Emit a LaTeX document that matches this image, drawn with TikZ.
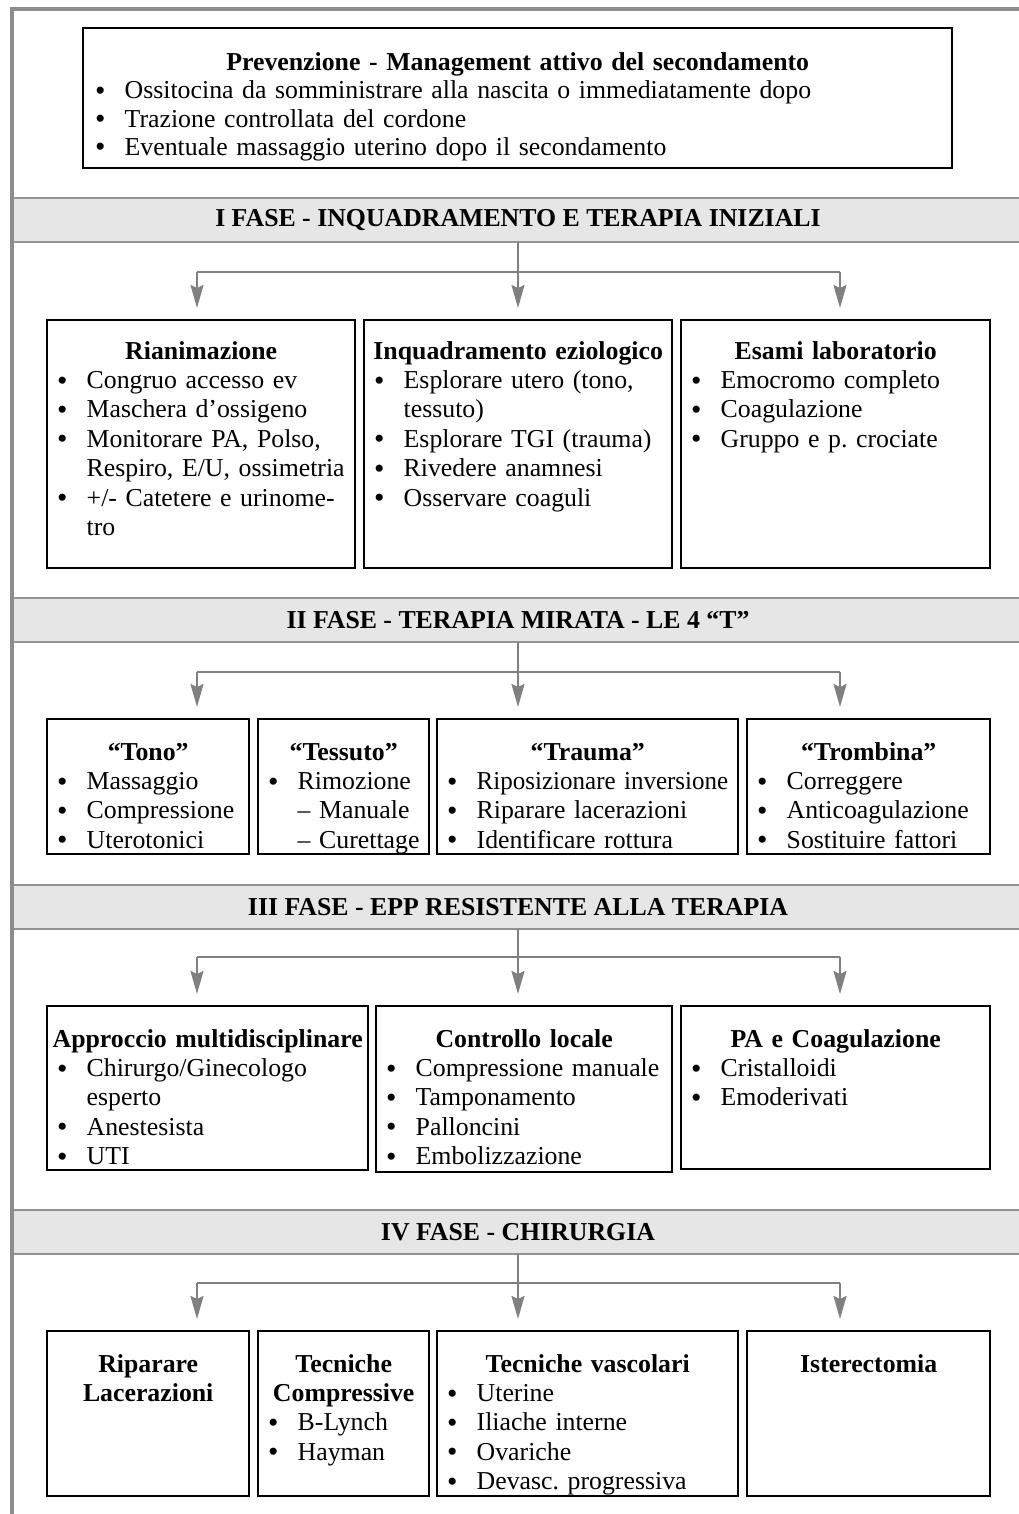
\documentclass[tikz,border=0pt]{standalone}
\usepackage{fontspec}
\usepackage{graphicx}
\setmainfont{Liberation Serif}
\usetikzlibrary{arrows.meta}
\definecolor{framegray}{HTML}{8C8C8C}
\definecolor{bandfill}{HTML}{E6E6E6}
\definecolor{bandline}{HTML}{929292}
\definecolor{arrowgray}{HTML}{808080}
\newlength\bulw \setlength\bulw{29.5pt}
\newcommand\mybul{\raisebox{-0.06em}{\scalebox{1.15}{\textbullet}}}
\newcommand\ttl[1]{\par\noindent\hbox to \hsize{\hss\strut\bfseries #1\hss}}
\newcommand\bl[1]{\par\noindent\makebox[\bulw][l]{\mybul}\mbox{#1}}
\newcommand\cl[1]{\par\noindent\hspace*{\bulw}\mbox{#1}}
\newcommand\jb[2]{\par\noindent\makebox[\bulw][l]{\mybul}\makebox[#1][s]{#2}}
\frenchspacing
\begin{document}
\begin{tikzpicture}[x=1pt,y=-1pt,
  boxs/.style={draw=black,line width=1.6pt,anchor=north west,inner sep=0pt,outer sep=0pt},
  txt/.style={anchor=north west,inner sep=0pt,align=left,font=\fontsize{25.8}{29.4}\selectfont\frenchspacing},
  band/.style={draw=bandline,fill=bandfill,line width=1.5pt,anchor=north west,inner sep=0pt,outer sep=0pt,
    minimum width=1010pt,minimum height=44pt,font=\fontsize{25.8}{29.4}\selectfont\bfseries},
  conn/.style={draw=arrowgray,line width=2pt},
  arr/.style={conn,-{Stealth[length=23pt,width=13pt,inset=3pt]},shorten >=12pt}]
\useasboundingbox (0,0) rectangle (1018,1514);

% ---------- top box
\node[boxs,minimum width=869pt,minimum height=140pt] (top) at (83,28) {};
\node[txt,text width=845pt,font=\fontsize{25.8}{28.3}\selectfont\frenchspacing] (toptxt) at ([xshift=12pt,yshift=-14pt]top.north west) {%
\ttl{Prevenzione - Management attivo del secondamento}
\bl{Ossitocina da somministrare alla nascita o immediatamente dopo}
\bl{Trazione controllata del cordone}
\bl{Eventuale massaggio uterino dopo il secondamento}};

% ---------- bands
\node[band] (f1) at (13,198) {I FASE - INQUADRAMENTO E TERAPIA INIZIALI};
\node[band] (f2) at (13,598) {II FASE - TERAPIA MIRATA - LE 4 “T”};
\node[band] (f3) at (13,885) {III FASE - EPP RESISTENTE ALLA TERAPIA};
\node[band] (f4) at (13,1210) {IV FASE - CHIRURGIA};

% ---------- row 1
\node[boxs,minimum width=308pt,minimum height=248pt] (b11) at (47,320) {};
\node[boxs,minimum width=308pt,minimum height=248pt] (b12) at (364,320) {};
\node[boxs,minimum width=309pt,minimum height=248pt] (b13) at (681,320) {};
\node[txt,text width=288pt] (t11) at ([xshift=10pt,yshift=-9.5pt]b11.north west) {%
\ttl{Rianimazione}
\bl{Congruo accesso ev}
\bl{Maschera d’ossigeno}
\jb{259pt}{Monitorare PA, Polso,}
\cl{Respiro, E/U, ossimetria}
\jb{259pt}{+/- Catetere e urinome-}
\cl{tro}};
\node[txt,text width=288pt] (t12) at ([xshift=10pt,yshift=-9.5pt]b12.north west) {%
\ttl{Inquadramento eziologico}
\jb{261pt}{Esplorare utero (tono,}
\cl{tessuto)}
\bl{Esplorare TGI (trauma)}
\bl{Rivedere anamnesi}
\bl{Osservare coaguli}};
\node[txt,text width=289pt] (t13) at ([xshift=10pt,yshift=-9.5pt]b13.north west) {%
\ttl{Esami laboratorio}
\bl{Emocromo completo}
\bl{Coagulazione}
\bl{Gruppo e p. crociate}};

% ---------- row 2
\node[boxs,minimum width=202pt,minimum height=135pt] (b21) at (47,719) {};
\node[boxs,minimum width=171pt,minimum height=135pt] (b22) at (258,719) {};
\node[boxs,minimum width=301pt,minimum height=135pt] (b23) at (437,719) {};
\node[boxs,minimum width=243pt,minimum height=135pt] (b24) at (747,719) {};
\node[txt,text width=182pt] (t21) at ([xshift=10pt,yshift=-11.5pt]b21.north west) {%
\ttl{“Tono”}
\bl{Massaggio}
\bl{Compressione}
\bl{Uterotonici}};
\node[txt,text width=151pt] (t22) at ([xshift=10pt,yshift=-11.5pt]b22.north west) {%
\ttl{“Tessuto”}
\bl{Rimozione}
\cl{– Manuale}
\cl{– Curettage}};
\node[txt,text width=281pt] (t23) at ([xshift=10pt,yshift=-11.5pt]b23.north west) {%
\ttl{“Trauma”}
\bl{\scalebox{0.97}[1]{Riposizionare inversione}}
\bl{Riparare lacerazioni}
\bl{Identificare rottura}};
\node[txt,text width=223pt] (t24) at ([xshift=10pt,yshift=-11.5pt]b24.north west) {%
\ttl{“Trombina”}
\bl{Correggere}
\bl{Anticoagulazione}
\bl{Sostituire fattori}};

% ---------- row 3
\node[boxs,minimum width=321pt,minimum height=164pt] (b31) at (47,1006) {};
\node[boxs,minimum width=296pt,minimum height=166pt] (b32) at (376,1006) {};
\node[boxs,minimum width=309pt,minimum height=163pt] (b33) at (681,1006) {};
\node[txt,text width=301pt] (t31) at ([xshift=10pt,yshift=-11.5pt]b31.north west) {%
\ttl{Approccio multidisciplinare}
\bl{Chirurgo/Ginecologo}
\cl{esperto}
\bl{Anestesista}
\bl{UTI}};
\node[txt,text width=276pt] (t32) at ([xshift=10pt,yshift=-11.5pt]b32.north west) {%
\ttl{Controllo locale}
\bl{Compressione manuale}
\bl{Tamponamento}
\bl{Palloncini}
\bl{Embolizzazione}};
\node[txt,text width=289pt] (t33) at ([xshift=10pt,yshift=-11.5pt]b33.north west) {%
\ttl{PA e Coagulazione}
\bl{Cristalloidi}
\bl{Emoderivati}};

% ---------- row 4
\node[boxs,minimum width=202pt,minimum height=165pt] (b41) at (47,1331) {};
\node[boxs,minimum width=171pt,minimum height=165pt] (b42) at (258,1331) {};
\node[boxs,minimum width=301pt,minimum height=165pt] (b43) at (437,1331) {};
\node[boxs,minimum width=243pt,minimum height=165pt] (b44) at (747,1331) {};
\node[txt,text width=182pt] (t41) at ([xshift=10pt,yshift=-11.5pt]b41.north west) {%
\ttl{Riparare}
\ttl{Lacerazioni}};
\node[txt,text width=151pt] (t42) at ([xshift=10pt,yshift=-11.5pt]b42.north west) {%
\ttl{Tecniche}
\ttl{Compressive}
\bl{B-Lynch}
\bl{Hayman}};
\node[txt,text width=281pt] (t43) at ([xshift=10pt,yshift=-11.5pt]b43.north west) {%
\ttl{Tecniche vascolari}
\bl{Uterine}
\bl{Iliache interne}
\bl{Ovariche}
\bl{Devasc. progressiva}};
\node[txt,text width=223pt] (t44) at ([xshift=10pt,yshift=-11.5pt]b44.north west) {%
\ttl{Isterectomia}};

% ---------- connectors
\coordinate (h1) at (518,272); \coordinate (hl1) at (197,272); \coordinate (hr1) at (840,272);
\coordinate (h2) at (518,672); \coordinate (hl2) at (197,672); \coordinate (hr2) at (840,672);
\coordinate (h3) at (518,957); \coordinate (hl3) at (197,957); \coordinate (hr3) at (840,957);
\coordinate (h4) at (518,1283); \coordinate (hl4) at (197,1283); \coordinate (hr4) at (840,1283);

\draw[conn] (f1.south -| h1) -- (h1); \draw[conn] (hl1) -- (hr1);
\draw[arr] (hl1) -- (hl1 |- b11.north);
\draw[arr] (h1) -- (h1 |- b12.north);
\draw[arr] (hr1) -- (hr1 |- b13.north);

\draw[conn] (f2.south -| h2) -- (h2); \draw[conn] (hl2) -- (hr2);
\draw[arr] (hl2) -- (hl2 |- b21.north);
\draw[arr] (h2) -- (h2 |- b23.north);
\draw[arr] (hr2) -- (hr2 |- b24.north);

\draw[conn] (f3.south -| h3) -- (h3); \draw[conn] (hl3) -- (hr3);
\draw[arr] (hl3) -- (hl3 |- b31.north);
\draw[arr] (h3) -- (h3 |- b32.north);
\draw[arr] (hr3) -- (hr3 |- b33.north);

\draw[conn] (f4.south -| h4) -- (h4); \draw[conn] (hl4) -- (hr4);
\draw[arr] (hl4) -- (hl4 |- b41.north);
\draw[arr] (h4) -- (h4 |- b43.north);
\draw[arr] (hr4) -- (hr4 |- b44.north);

% ---------- frame
\draw[framegray,line width=4pt] (11.5,1520) -- (11.5,9.5) -- (1025,9.5);
\end{tikzpicture}
\end{document}
